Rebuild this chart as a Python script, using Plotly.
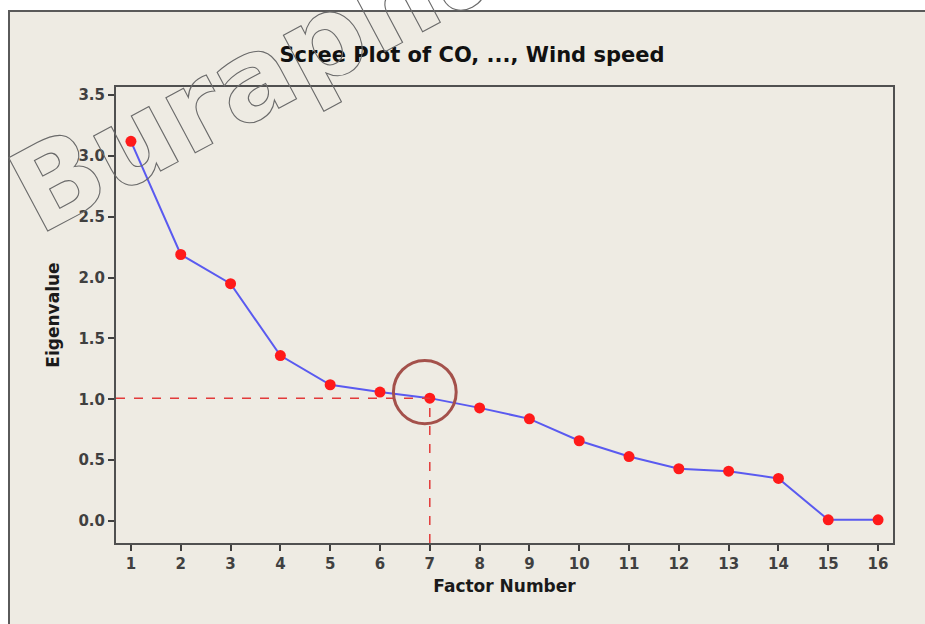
import plotly.graph_objects as go

factor = list(range(1, 17))
eigen = [3.12, 2.19, 1.95, 1.36, 1.12, 1.06, 1.01, 0.93, 0.84, 0.66, 0.53, 0.43, 0.41, 0.35, 0.01, 0.01]
cut_index = 6  # factor 7
title_text = "Scree Plot of CO, ..., Wind speed"
watermark = "Burapha"

W, H = 925, 624
L, R, T, B = 116, 32, 87, 81
pw, ph = W - L - R, H - T - B

def px_x(p):
    return (p - L) / pw

def px_y(p):
    return (H - B - p) / ph

fig = go.Figure()
fig.add_trace(go.Scatter(
    x=factor, y=eigen, mode="lines+markers",
    line=dict(color="#5a5af0", width=2),
    marker=dict(color="#ff1a1a", size=11),
    showlegend=False, hoverinfo="x+y"))

cx, cy = factor[cut_index], eigen[cut_index]
xr = [0.7, 16.3]
yr = [-0.18, 3.566]

shapes = [
    # beige panel with frame
    dict(type="rect", xref="paper", yref="paper", x0=px_x(9), x1=1.2, y0=-0.3, y1=px_y(11),
         fillcolor="#eeebe3", line=dict(color="#5a5a5a", width=2), layer="below"),
    # reference lines
    dict(type="line", xref="paper", yref="y", x0=0, x1=(cx - xr[0]) / (xr[1] - xr[0]), y0=cy, y1=cy,
         line=dict(color="#e23a3a", width=1.5, dash="dash")),
    dict(type="line", xref="x", yref="paper", x0=cx, x1=cx, y0=0, y1=(cy - yr[0]) / (yr[1] - yr[0]),
         line=dict(color="#e23a3a", width=1.5, dash="dash")),
    # highlight circle
    dict(type="circle", xref="x", yref="y", x0=cx - 0.1 - 0.63, x1=cx - 0.1 + 0.63,
         y0=cy + 0.05 - 0.26, y1=cy + 0.05 + 0.26,
         line=dict(color="#a4514b", width=3)),
]

axis_font = dict(family="DejaVu Sans", size=15, color="#404040", weight="bold")
title_font = dict(family="DejaVu Sans", size=17, color="#1a1a1a", weight="bold")

fig.update_layout(
    width=W, height=H,
    margin=dict(l=L, r=R, t=T, b=B),
    paper_bgcolor="white", plot_bgcolor="white",
    shapes=shapes,
    title=dict(text=title_text, x=472 / W, xref="container", xanchor="center",
               y=1 - 55 / H, yref="container", yanchor="middle",
               font=dict(family="DejaVu Sans", size=21, color="#111111", weight="bold")),
    xaxis=dict(range=xr, tickvals=factor, ticktext=[str(f) for f in factor],
               showgrid=False, zeroline=False, showline=True, mirror=True,
               linecolor="#505050", linewidth=2, ticks="outside", ticklen=6,
               tickcolor="#404040", tickwidth=2, tickfont=axis_font,
               title=dict(text="Factor Number", standoff=8, font=title_font)),
    yaxis=dict(range=yr, tick0=0, dtick=0.5, tickformat=".1f",
               showgrid=False, zeroline=False, showline=True, mirror=True,
               linecolor="#505050", linewidth=2, ticks="outside", ticklen=6,
               tickcolor="#404040", tickwidth=2, tickfont=axis_font,
               title=dict(text="Eigenvalue", standoff=14, font=title_font)),
    annotations=[dict(text=watermark, xref="paper", yref="paper",
                      x=px_x(258), y=px_y(74), xanchor="center", yanchor="middle",
                      showarrow=False, textangle=-28,
                      font=dict(family="DejaVu Sans", size=114, color="#777777", weight="bold"))],
)

post = """
document.body.style.margin='0';
document.documentElement.style.margin='0';
var t = document.querySelectorAll('.annotation-text');
t.forEach(function(e){ e.style.fill='none'; e.style.stroke='#6a6a6a'; e.style.strokeWidth='1.1px'; });
"""
fig.write_html("out.html", post_script=post, config={"displayModeBar": False})
